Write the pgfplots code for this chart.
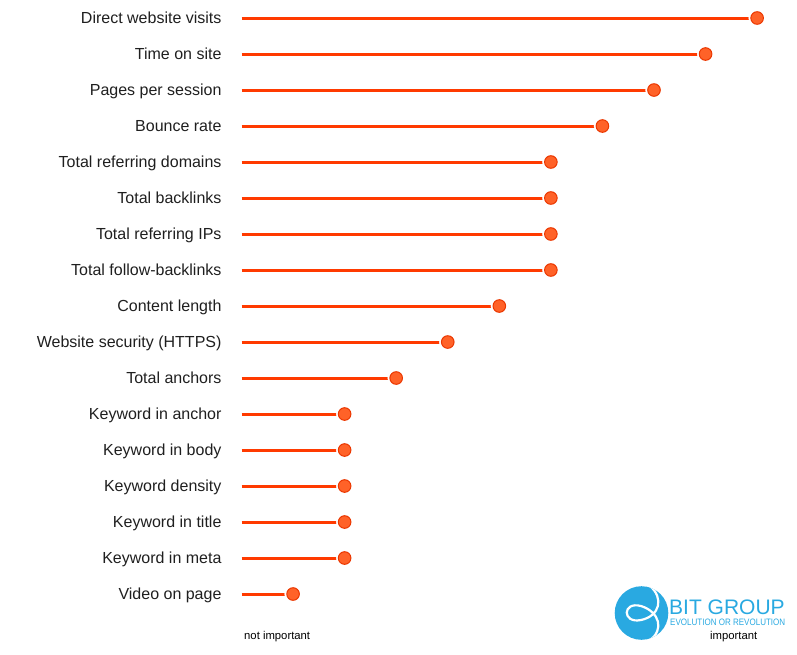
\documentclass[border=0pt]{standalone}
\usepackage{fontspec}
\setmainfont{Liberation Sans}
\usepackage{graphicx}
\usepackage{pgfplots}
\pgfplotsset{compat=1.18}
\definecolor{lineor}{RGB}{255,58,0}
\definecolor{dotfill}{RGB}{255,98,40}
\definecolor{dotdraw}{RGB}{235,55,0}
\definecolor{logoblue}{RGB}{41,169,225}
\begin{document}
\begin{tikzpicture}[x=1pt,y=1pt]
\path[use as bounding box] (0,0) rectangle (797,-654);
\begin{axis}[
  at={(241.5pt,0pt)}, anchor=north west,
  scale only axis, width=541.4pt, height=612pt,
  xmin=0, xmax=10.5, ymin=-0.5, ymax=16.5, y dir=reverse,
  axis line style={draw=none}, xtick=\empty,
  ytick={0,...,16}, major tick length=0pt,
  yticklabels={Direct website visits,Time on site,Pages per session,Bounce rate,Total referring domains,Total backlinks,Total referring IPs,Total follow-backlinks,Content length,Website security (HTTPS),Total anchors,Keyword in anchor,Keyword in body,Keyword density,Keyword in title,Keyword in meta,Video on page},
  yticklabel style={anchor=base east, xshift=-16.5pt, yshift=-5.8pt, font=\fontsize{16}{19}\selectfont, text=black!88},
  clip=false,
]
\addplot[xcomb, lineor, line width=3pt, mark=none] table[x=v,y=i] {
i v
0 10
1 9
2 8
3 7
4 6
5 6
6 6
7 6
8 5
9 4
10 3
11 2
12 2
13 2
14 2
15 2
16 1
};
\addplot[only marks, mark=*, mark size=8.4pt, mark options={fill=white, draw=white}] table[x=v,y=i] {
i v
0 10
1 9
2 8
3 7
4 6
5 6
6 6
7 6
8 5
9 4
10 3
11 2
12 2
13 2
14 2
15 2
16 1
};
\addplot[only marks, mark=*, mark size=6.3pt, mark options={fill=dotfill, draw=dotdraw, line width=1pt}] table[x=v,y=i] {
i v
0 10
1 9
2 8
3 7
4 6
5 6
6 6
7 6
8 5
9 4
10 3
11 2
12 2
13 2
14 2
15 2
16 1
};
\end{axis}
\node[anchor=west, inner sep=0pt, font=\fontsize{11.3}{13}\selectfont] at (244,-637) {not important};
\node[anchor=west, inner sep=0pt, font=\fontsize{11.3}{13}\selectfont] at (710,-637) {important};
% logo
\fill[logoblue] (641.5,-613) circle (26.8);
\begin{scope}
\clip (641.5,-613) circle (26.8);
\draw[white, line width=2.2pt, line cap=round] (650,-586) .. controls (664,-598) and (660,-616) .. (641,-620) .. controls (622,-624) and (622,-601) .. (641,-606) .. controls (660,-612) and (664,-630) .. (650,-640);
\end{scope}
\node[anchor=west, inner sep=0pt, text=logoblue, font=\fontsize{21}{24}\selectfont] at (669,-607.5) {BIT GROUP};
\node[anchor=west, inner sep=0pt, text=logoblue] at (670,-622) {\resizebox{115pt}{6.5pt}{EVOLUTION OR REVOLUTION}};
\end{tikzpicture}
\end{document}
